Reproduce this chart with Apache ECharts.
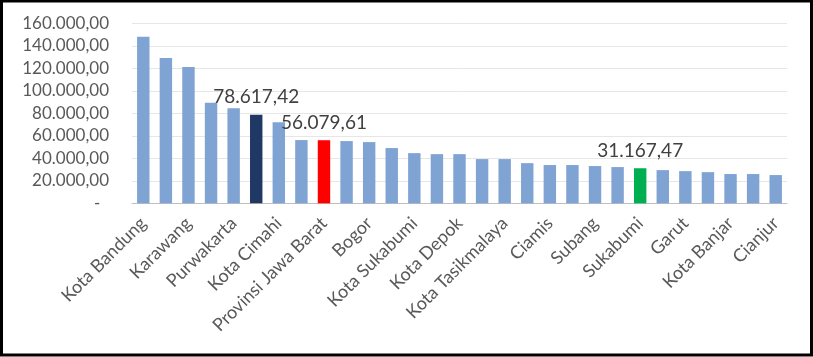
<!DOCTYPE html>
<html>
<head>
<meta charset="utf-8">
<script src="https://cdn.jsdelivr.net/npm/echarts@6/dist/echarts.min.js"></script>
<style>
html,body{margin:0;padding:0;background:#fff;}
#chart{width:813px;height:357px;}
</style>
</head>
<body>
<div id="chart"></div>
<script>
const categories = ["Kota Bandung","Bekasi","Karawang","Kota Cirebon","Purwakarta","Indonesia","Kota Cimahi","Kota Bogor","Provinsi Jawa Barat","Kota Bekasi","Bogor","Bandung Barat","Kota Sukabumi","Sumedang","Kota Depok","Bandung","Kota Tasikmalaya","Indramayu","Ciamis","Majalengka","Subang","Pangandaran","Sukabumi","Cirebon","Garut","Kuningan","Kota Banjar","Tasikmalaya","Cianjur"];
const values = [148000,129100,121100,89400,84600,78617.42,72100,56200,56079.61,55300,54400,49100,44600,43700,43700,39300,39300,35700,34000,34000,33100,32200,31167.47,29500,28600,27700,26000,26000,25100];
const highlightIndex = {5:"#203864", 8:"#FF0000", 22:"#00B050"};
const baseColor = "#7FA3D3";
const yTicks = [0,20000,40000,60000,80000,100000,120000,140000,160000];

function fmt(v){
  const fixed = v.toFixed(2);
  const parts = fixed.split(".");
  const intp = parts[0].replace(/\B(?=(\d{3})+(?!\d))/g, ".");
  return intp + "," + parts[1];
}

const chart = echarts.init(document.getElementById('chart'));
const font = "Lato, 'Open Sans', sans-serif";
chart.setOption({
  animation:false,
  backgroundColor:'#fff',
  grid:{left:132,right:26,top:23.3,bottom:153.7,containLabel:false},
  xAxis:{
    type:'category',
    data:categories,
    axisLine:{lineStyle:{color:'#bfbfbf',width:1}},
    axisTick:{show:false},
    axisLabel:{interval:1,rotate:45,margin:17,color:'#595959',fontSize:18,fontFamily:font}
  },
  yAxis:{
    type:'value',
    min:yTicks[0],max:yTicks[yTicks.length-1],interval:20000,
    axisLine:{show:false},
    axisTick:{show:false},
    splitLine:{lineStyle:{color:'#e6e6e6',width:1}},
    axisLabel:{margin:23,color:'#595959',fontSize:17,fontFamily:font,
      formatter:function(v){return v===0?'-  ':fmt(v);}}
  },
  series:[{
    type:'bar',
    barCategoryGap:'45%',
    data:values.map((v,i)=>({
      value:v,
      itemStyle:{color:highlightIndex[i]||baseColor},
      label:{show: i in highlightIndex}
    })),
    label:{position:'top',distance:8,color:'#404040',fontSize:19,fontFamily:font,
      formatter:function(p){return fmt(p.value);}}
  }],
  graphic:[{
    type:'rect',
    shape:{x:1.5,y:1,width:810,height:354},
    style:{fill:'none',stroke:'#000',lineWidth:3},
    z:100
  }]
});
</script>
</body>
</html>
